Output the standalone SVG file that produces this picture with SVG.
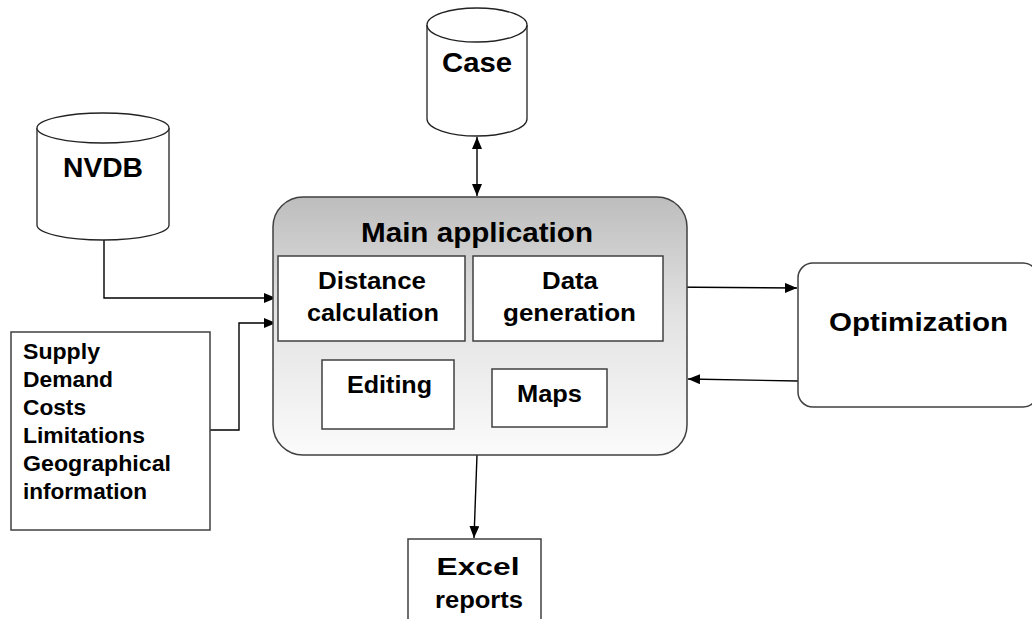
<svg xmlns="http://www.w3.org/2000/svg" width="1032" height="619" viewBox="0 0 1032 619">
<defs>
<linearGradient id="mainGrad" x1="0" y1="0" x2="0" y2="1">
<stop offset="0" stop-color="#bdbdbd"/>
<stop offset="0.45" stop-color="#e2e2e2"/>
<stop offset="1" stop-color="#fbfbfb"/>
</linearGradient>
<marker id="arr" viewBox="0 0 12 10" refX="12" refY="5" markerWidth="12" markerHeight="10" markerUnits="userSpaceOnUse" orient="auto-start-reverse">
<path d="M0,0 L12,5 L0,10 z" fill="#000"/>
</marker>
</defs>
<style>
text{font-family:"Liberation Sans",Arial,sans-serif;font-weight:bold;fill:#000}
.mid{text-anchor:middle}
.box{fill:#fff;stroke:#404040;stroke-width:1.5}
.cyl{fill:#fff;stroke:#222;stroke-width:1.3}
.conn{fill:none;stroke:#000;stroke-width:1.4}
</style>
<rect width="1032" height="619" fill="#fff"/>

<g id="connectors">
<line class="conn" x1="477" y1="137" x2="477" y2="196" marker-start="url(#arr)" marker-end="url(#arr)"/>
<polyline class="conn" points="104,240 104,298 276,298" marker-end="url(#arr)"/>
<polyline class="conn" points="210,430 239,430 239,323 276,323" marker-end="url(#arr)"/>
<line class="conn" x1="663" y1="287" x2="797" y2="288" marker-end="url(#arr)"/>
<line class="conn" x1="798" y1="381" x2="688" y2="379" marker-end="url(#arr)"/>
<line class="conn" x1="477" y1="455" x2="474" y2="538" marker-end="url(#arr)"/>
</g>

<g id="case">
<path class="cyl" d="M427,25 L427,119 A50,17 0 0 0 527,119 L527,25"/>
<ellipse class="cyl" cx="477" cy="25" rx="50" ry="17"/>
<text class="mid" x="477" y="72" font-size="27" textLength="70" lengthAdjust="spacingAndGlyphs">Case</text>
</g>

<g id="nvdb">
<path class="cyl" d="M37,128 L37,225 A66,15 0 0 0 169,225 L169,128"/>
<ellipse class="cyl" cx="103" cy="128" rx="66" ry="15"/>
<text class="mid" x="103" y="177" font-size="27" textLength="80" lengthAdjust="spacingAndGlyphs">NVDB</text>
</g>

<g id="inputs">
<rect class="box" x="11" y="332" width="199" height="198"/>
<text x="23" y="359" font-size="22" textLength="77" lengthAdjust="spacingAndGlyphs">Supply</text>
<text x="23" y="387" font-size="22" textLength="90" lengthAdjust="spacingAndGlyphs">Demand</text>
<text x="23" y="415" font-size="22" textLength="63" lengthAdjust="spacingAndGlyphs">Costs</text>
<text x="23" y="443" font-size="22" textLength="122" lengthAdjust="spacingAndGlyphs">Limitations</text>
<text x="23" y="471" font-size="22" textLength="148" lengthAdjust="spacingAndGlyphs">Geographical</text>
<text x="23" y="499" font-size="22" textLength="124" lengthAdjust="spacingAndGlyphs">information</text>
</g>

<g id="main">
<rect x="273" y="197" width="414" height="258" rx="30" ry="30" fill="url(#mainGrad)" stroke="#404040" stroke-width="1.5"/>
<text class="mid" x="477" y="242" font-size="28" textLength="232" lengthAdjust="spacingAndGlyphs">Main application</text>
</g>

<g id="distance">
<rect class="box" x="278" y="256" width="187" height="85"/>
<text class="mid" x="372" y="289" font-size="23" textLength="108" lengthAdjust="spacingAndGlyphs">Distance</text>
<text class="mid" x="373" y="321" font-size="23" textLength="132" lengthAdjust="spacingAndGlyphs">calculation</text>
</g>

<g id="datagen">
<rect class="box" x="473" y="256" width="190" height="85"/>
<text class="mid" x="570" y="289" font-size="23" textLength="56" lengthAdjust="spacingAndGlyphs">Data</text>
<text class="mid" x="569.5" y="321" font-size="23" textLength="133" lengthAdjust="spacingAndGlyphs">generation</text>
</g>

<g id="editing">
<rect class="box" x="322" y="360" width="132" height="69"/>
<text class="mid" x="389.5" y="393" font-size="23" textLength="85" lengthAdjust="spacingAndGlyphs">Editing</text>
</g>

<g id="maps">
<rect class="box" x="492" y="369" width="115" height="58"/>
<text class="mid" x="549.5" y="402" font-size="23" textLength="65" lengthAdjust="spacingAndGlyphs">Maps</text>
</g>

<g id="optimization">
<rect class="box" x="798" y="263" width="240" height="144" rx="15" ry="15"/>
<text class="mid" x="918.5" y="331" font-size="26" textLength="179" lengthAdjust="spacingAndGlyphs">Optimization</text>
</g>

<g id="excel">
<rect class="box" x="408" y="539" width="133" height="90"/>
<text class="mid" x="478" y="575" font-size="23" textLength="83" lengthAdjust="spacingAndGlyphs">Excel</text>
<text class="mid" x="479" y="608" font-size="23" textLength="88" lengthAdjust="spacingAndGlyphs">reports</text>
</g>
</svg>
